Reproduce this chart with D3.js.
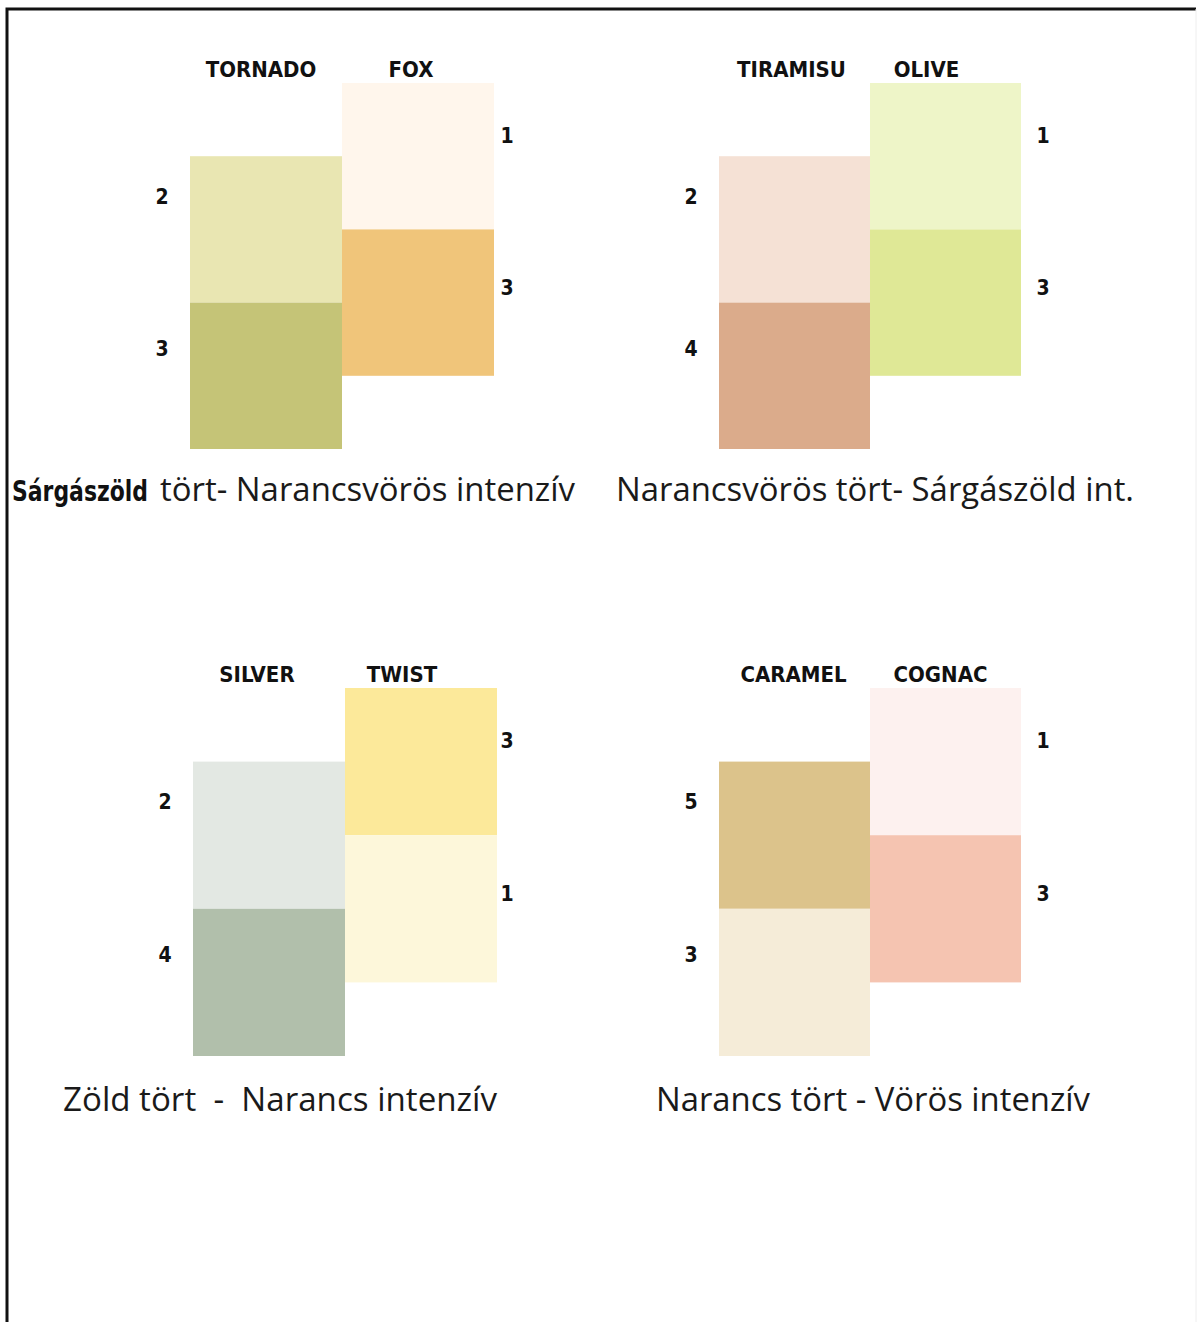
<!DOCTYPE html>
<html>
<head>
<meta charset="utf-8">
<script src="https://cdn.jsdelivr.net/npm/d3@7"></script>
<style>
  body { margin: 0; background: #fff; }
  svg { display: block; }
  .name, .lvl { font-family: "DejaVu Sans Condensed", "Liberation Sans", Arial, sans-serif; font-weight: bold; fill: #111; }
  .cap { font-family: "Open Sans", "Noto Sans", sans-serif; fill: #1a1a1a; white-space: pre; }
</style>
</head>
<body>
<svg id="chart" width="1198" height="1322"></svg>
<script>
  // colour pairs: left column (tört) and right column (intenzív)
  const leftNames = ['TORNADO', 'TIRAMISU', 'SILVER', 'CARAMEL']
  const rightNames = ['FOX', 'OLIVE', 'TWIST', 'COGNAC']
  const leftLevels = [[2, 3], [2, 4], [2, 4], [5, 3]]
  const rightLevels = [[1, 3], [1, 3], [3, 1], [1, 3]]
  const leftColours = [['#e9e6b2', '#c5c477'], ['#f5e1d5', '#dbab8b'], ['#e3e8e3', '#b1bfab'], ['#dcc38b', '#f5ecd8']]
  const rightColours = [['#fff6ec', '#f0c57a'], ['#eef5c8', '#dfe896'], ['#fce99a', '#fdf7da'], ['#fdf1ef', '#f5c4b1']]
  const captions = [
    ['Sárgászöld', 'tört- Narancsvörös intenzív'],
    ['', 'Narancsvörös tört- Sárgászöld int.'],
    ['', 'Zöld tört  -  Narancs intenzív'],
    ['', 'Narancs tört - Vörös intenzív']
  ]

  // where each panel sits on the page
  const layout = [
    { x0: 190, x1: 494, y0: 83, y1: 449, lvlR: 13, nameL: 5, nameR: 7, capX: 12, capY: 501, boldW: 136, capX2: 160, capW: 415 },
    { x0: 719, x1: 1021, y0: 83, y1: 449, lvlR: 22, nameL: 3, nameR: 19, capX: 616, capY: 501, boldW: 0, capX2: 616, capW: 518 },
    { x0: 193, x1: 497, y0: 688, y1: 1056, lvlR: 10, nameL: 12, nameR: 19, capX: 63, capY: 1111, boldW: 0, capX2: 63, capW: 434 },
    { x0: 719, x1: 1021, y0: 688, y1: 1056, lvlR: 22, nameL: 1, nameR: 5, capX: 656, capY: 1111, boldW: 0, capX2: 656, capW: 434 }
  ]

  const svg = d3.select('#chart')

  // frame
  svg.append('path')
    .attr('d', 'M7,1322V9H1196')
    .attr('fill', 'none')
    .attr('stroke', '#111')
    .attr('stroke-width', 3)
  svg.append('line')
    .attr('x1', 1196).attr('x2', 1196).attr('y1', 9).attr('y2', 1322)
    .attr('stroke', '#eee').attr('stroke-width', 1)

  layout.forEach(function(p, i){
    let g = svg.append('g')
    let x = d3.scaleBand().domain([0, 1]).range([p.x0, p.x1])
    // units of one swatch height; left column starts half a swatch lower
    let y = d3.scaleLinear().domain([0, 2.5]).range([p.y0, p.y1])

    let cells = []
    for (let r = 0; r < 2; r++) {
      cells.push({ col: 0, row: r, start: 0.5 + r, level: leftLevels[i][r], colour: leftColours[i][r] })
      cells.push({ col: 1, row: r, start: r, level: rightLevels[i][r], colour: rightColours[i][r] })
    }

    g.selectAll('rect')
      .data(cells)
      .join('rect')
      .attr('x', d => x(d.col))
      .attr('y', d => y(d.start))
      .attr('width', x.bandwidth())
      .attr('height', d => y(d.start + 1) - y(d.start))
      .attr('fill', d => d.colour)

    g.selectAll('text.lvl')
      .data(cells)
      .join('text')
      .attr('class', 'lvl')
      .attr('font-size', 21)
      .attr('text-anchor', 'middle')
      .attr('x', d => d.col === 0 ? x(0) - 28 : x(1) + x.bandwidth() + p.lvlR)
      .attr('y', d => y(d.start + (d.col === 0 ? 0.27 : 0.355) + 0.04 * d.row) + 8)
      .text(d => d.level)

    g.selectAll('text.name')
      .data([leftNames[i], rightNames[i]])
      .join('text')
      .attr('class', 'name')
      .attr('font-size', 22)
      .attr('text-anchor', 'middle')
      .attr('x', (d, j) => x(j) + x.bandwidth() / 2 - (j === 0 ? p.nameL : p.nameR))
      .attr('y', y(0) - 6)
      .text(d => d)

    if (captions[i][0]) {
      g.append('text')
        .attr('class', 'name')
        .attr('font-size', 28)
        .attr('x', p.capX)
        .attr('y', p.capY)
        .attr('textLength', p.boldW)
        .attr('lengthAdjust', 'spacingAndGlyphs')
        .text(captions[i][0])
    }
    g.append('text')
      .attr('class', 'cap')
      .attr('font-size', 32)
      .attr('x', p.capX2)
      .attr('y', p.capY)
      .attr('textLength', p.capW)
      .attr('lengthAdjust', 'spacingAndGlyphs')
      .text(captions[i][1])
  })
</script>
</body>
</html>
